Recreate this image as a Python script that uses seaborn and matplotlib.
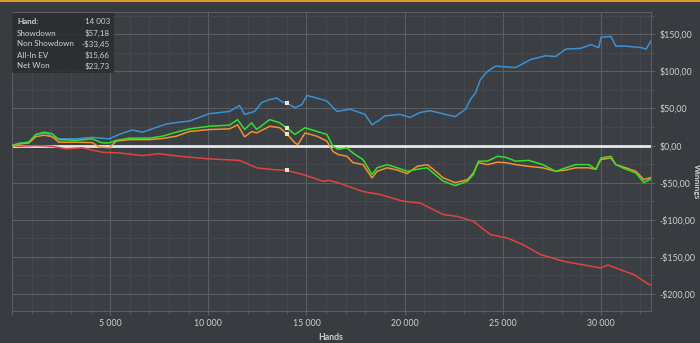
import numpy as np
import pandas as pd
import matplotlib
matplotlib.use("Agg")
import matplotlib.pyplot as plt
import seaborn as sns
from matplotlib.ticker import MultipleLocator, FuncFormatter
from matplotlib.patches import Rectangle
from matplotlib.lines import Line2D

# ---------------- data ----------------
showdown_hands = [0, 350, 860, 1220, 1730, 2040, 2390, 3260, 4080, 4950,
                  5460, 6120, 6640, 7150, 7860, 8370, 9040, 10060, 11080, 11590,
                  11850, 12360, 12720, 13130, 13490, 13790, 14003, 14410, 14760, 15020,
                  15530, 16040, 16550, 17220, 17980, 18340, 18750, 19000, 19770, 20280,
                  20790, 21310, 22070, 22580, 23100, 23350, 23610, 23860, 24220, 24630,
                  25650, 26420, 27190, 27700, 28210, 28970, 29490, 29890, 30000, 30510,
                  30760, 31270, 32040, 32300, 32550]
showdown_vals = [0, 3, 4.5, 15, 17, 12, 9, 9, 11, 9,
                 15, 21, 18, 22.5, 29, 31, 33, 43, 46, 54,
                 42, 46, 58, 62, 64, 58.5, 57.18, 51, 55, 67.5,
                 64, 60, 46, 49, 42, 28, 35, 40, 42, 38,
                 44.6, 47, 42, 39, 49, 62, 71, 89, 100, 107,
                 105, 116, 121, 120, 130, 131, 136, 132, 146, 147,
                 134, 134, 132, 130, 141]

netwon_hands = [0, 350, 860, 1220, 1630, 2040, 2390, 3260, 4080, 4590,
                4950, 5310, 5980, 7000, 7660, 8370, 9040, 10060, 11080, 11490,
                11850, 12210, 12460, 13130, 13640, 14003, 14410, 14930, 15530, 16040,
                16350, 16610, 17060, 17370, 17880, 18340, 18600, 19110, 19620, 20130,
                20640, 21150, 21460, 21970, 22580, 23200, 23500, 23760, 24220, 24730,
                25140, 25650, 26320, 27030, 27700, 28210, 28720, 29380, 29740, 30000,
                30510, 30760, 31270, 31780, 32190, 32550]
netwon_vals = [0, 2.7, 4.5, 15, 18, 16, 8, 7, 9, 3.6,
               3.6, 7, 10, 10, 12.6, 18, 22.5, 26, 27.5, 35,
               21.6, 30.6, 21.6, 35, 30.6, 23.73, 15, 24, 19, 15,
               -1, -5, -3, -10, -19, -39, -30, -25.7, -30, -34.7,
               -32, -30, -37, -48, -54, -48, -39, -21, -21, -14.5,
               -15.8, -21, -20, -25.7, -34.7, -30, -25.7, -25.7, -32, -16.7,
               -14.5, -25.7, -32, -37, -50, -45]

allinev_hands = [0, 350, 860, 1220, 1630, 2040, 2390, 3260, 4080, 4440,
                 4950, 5310, 5980, 7000, 7660, 8370, 9040, 10060, 11080, 11490,
                 11850, 12210, 12460, 13130, 13640, 14003, 14410, 14560, 14930, 15530,
                 16040, 16350, 16610, 17060, 17370, 17880, 18340, 18600, 19110, 19620,
                 20130, 20640, 21150, 21460, 21970, 22580, 23200, 23500, 23760, 24220,
                 24730, 25140, 25650, 26320, 27030, 27700, 28210, 28720, 29380, 29740,
                 30000, 30510, 30760, 31270, 31780, 32190, 32550]
allinev_vals = [0, 2, 3.5, 12, 14, 12, 4.5, 4.5, 4, -2,
                -3, 6, 8, 8, 9.5, 12.6, 19, 21.6, 22.5, 28,
                11.7, 19, 17, 26, 24, 15.66, 3.6, 1.3, 17, 12.6,
                6, -8, -12, -14.5, -23, -25.7, -43.6, -34.7, -30, -33,
                -37.8, -28, -25.7, -32, -43.6, -50, -46, -37, -23, -25.7,
                -22.5, -23, -25.7, -28, -30, -34.7, -33, -30, -30, -32,
                -18.9, -16.7, -25.7, -30, -34.7, -46, -43]

nonshowdown_hands = [0, 350, 1220, 2040, 2750, 3570, 4590, 5460, 6640, 7500,
                     8530, 10060, 11590, 12460, 13280, 14003, 14820, 15840, 16190, 16710,
                     17880, 18750, 19920, 20790, 21970, 22680, 23500, 24370, 25240, 26060,
                     26930, 28100, 29130, 29990, 30350, 31020, 31680, 32400, 32550]
nonshowdown_vals = [0, -1, 0, -1, -4.5, -3, -9, -10, -13.5, -11,
                    -14.5, -18, -20, -30, -32.4, -33.45, -39, -48, -47, -51,
                    -62, -66, -75, -77.5, -93, -95.5, -102, -120, -124.7, -134,
                    -147, -156, -161, -165, -161, -167.6, -174, -186.5, -188]

series_names = ["Non Showdown", "Showdown", "All-In EV", "Net Won"]
info_hand = 14003
info_labels = ["Hand:", "Showdown", "Non Showdown", "All-In EV", "Net Won"]
info_values = ["14 003", "$57,18", "-$33,45", "$15,66", "$23,73"]

# ---------------- style ----------------
FIG_BG = "#383b3f"
AX_BG = "#3b3e42"
GRID_MAJ = "#5b5f64"
GRID_MIN = "#46494e"
TXT = "#cfd1d3"
palette = {"Showdown": "#3a92d6", "Non Showdown": "#e0443e",
           "All-In EV": "#f0922e", "Net Won": "#35e02c"}

sns.set_theme(style="dark")
plt.rcParams["font.family"] = ["Lato", "DejaVu Sans"]

fig = plt.figure(figsize=(7.0, 3.43), dpi=100, facecolor=FIG_BG)
ax = fig.add_axes([12 / 700, 1 - 311 / 343, 639 / 700, 299 / 343])
ax.set_facecolor(AX_BG)

frames = [
    pd.DataFrame({"hands": showdown_hands, "value": showdown_vals, "series": "Showdown"}),
    pd.DataFrame({"hands": nonshowdown_hands, "value": nonshowdown_vals, "series": "Non Showdown"}),
    pd.DataFrame({"hands": allinev_hands, "value": allinev_vals, "series": "All-In EV"}),
    pd.DataFrame({"hands": netwon_hands, "value": netwon_vals, "series": "Net Won"}),
]
df = pd.concat(frames, ignore_index=True)

ax.axhline(0, color="#e8e8e8", lw=2.0, zorder=2)
sns.lineplot(data=df, x="hands", y="value", hue="series", hue_order=series_names,
             palette=palette, estimator=None, linewidth=1.1, legend=False,
             ax=ax, zorder=3)

# hover markers
for hs, vs in [(showdown_hands, showdown_vals), (nonshowdown_hands, nonshowdown_vals),
               (allinev_hands, allinev_vals), (netwon_hands, netwon_vals)]:
    ax.scatter([info_hand], [np.interp(info_hand, hs, vs)], marker="s", s=6,
               color="#f4e4c8", zorder=5, linewidths=0)

ax.set_xlim(0, 32550)
ax.set_ylim(-223, 180)

ax.xaxis.set_major_locator(MultipleLocator(5000))
ax.xaxis.set_minor_locator(MultipleLocator(1000))
ax.yaxis.set_major_locator(MultipleLocator(50))
ax.yaxis.set_minor_locator(MultipleLocator(25))


def fmt_hands(v, pos):
    if v <= 0:
        return ""
    return f"{int(round(v)):,}".replace(",", " ")


def fmt_money(v, pos):
    sign = "-" if v < 0 else ""
    return f"{sign}${abs(v):.2f}".replace(".", ",")


ax.xaxis.set_major_formatter(FuncFormatter(fmt_hands))
ax.yaxis.set_major_formatter(FuncFormatter(fmt_money))
ax.yaxis.tick_right()

ax.grid(which="major", color=GRID_MAJ, lw=0.8)
ax.grid(which="minor", color=GRID_MIN, lw=0.6)
ax.set_axisbelow(True)

ax.tick_params(axis="both", which="both", direction="out", colors=GRID_MAJ,
               labelcolor=TXT, labelsize=6.3)
ax.tick_params(axis="both", which="major", length=3, width=0.8)
ax.tick_params(axis="both", which="minor", length=2, width=0.6)
ax.tick_params(axis="x", which="both", bottom=True, pad=3)
ax.tick_params(axis="y", which="both", right=True, left=False, pad=3)

for sp in ax.spines.values():
    sp.set_color(GRID_MAJ)
    sp.set_linewidth(0.8)

ax.set_xlabel("")
ax.set_ylabel("")
fig.text(331 / 700, 1 - 337 / 343, "Hands", color=TXT, fontsize=6.3,
         fontweight="bold", ha="center", va="center")
fig.text(696 / 700, 1 - 182 / 343, "Winnings", rotation=270, color=TXT,
         fontsize=6.0, fontweight="bold", ha="center", va="center")

# info box
fig.patches.append(Rectangle((12 / 700, 1 - 73 / 343), 102 / 700, 60 / 343,
                             transform=fig.transFigure, facecolor="#2a2c2f",
                             alpha=0.85, edgecolor="none", zorder=10))
for i, (lab, val) in enumerate(zip(info_labels, info_values)):
    yy = 1 - (22 + 11 * i) / 343
    fw = "bold" if i == 0 else "normal"
    fig.text(17 / 700, yy, lab, color=TXT, fontsize=5.8, ha="left", va="center",
             fontweight=fw, zorder=11)
    fig.text(110 / 700, yy, val, color=TXT, fontsize=5.8, ha="right", va="center",
             zorder=11)

# orange top border
fig.add_artist(Line2D([0, 1], [1 - 0.6 / 343, 1 - 0.6 / 343], transform=fig.transFigure,
                      color="#d99a30", lw=1.5))

fig.savefig("out.png", dpi=100, facecolor=FIG_BG)
